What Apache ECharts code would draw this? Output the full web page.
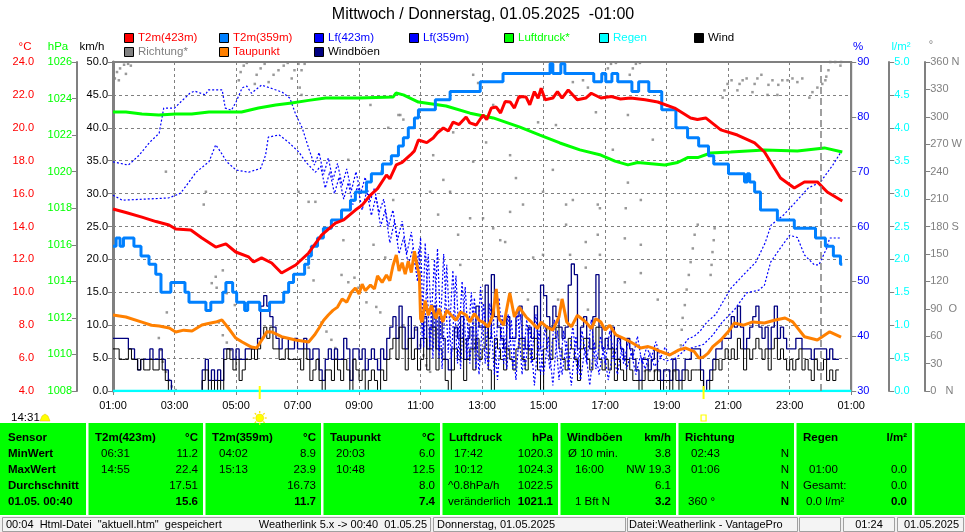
<!DOCTYPE html>
<html><head><meta charset="utf-8">
<script src="https://cdn.jsdelivr.net/npm/echarts@6/dist/echarts.min.js"></script>
<style>html,body{margin:0;padding:0;background:#fff}#c{width:965px;height:532px}</style>
</head><body><div id="c"></div>
<script>
// ---------- DATA ----------
const xTickLabels = ['01:00','03:00','05:00','07:00','09:00','11:00','13:00','15:00','17:00','19:00','21:00','23:00','01:00'];
const dirLabels = {0:'0   N',90:'90  O',180:'180 S',270:'270 W',360:'360 N'};

// T2m(423m) [hours since 01:00, °C]
const t2m423 = [[0,15.06],[0.42,14.85],[0.94,14.57],[1.4,14.3],[1.82,14.09],[2.04,13.85],[2.53,13.79],[2.89,13.3],[3.34,12.75],[3.67,12.94],[3.99,12.45],[4.41,12.15],[4.57,11.84],[4.83,12.09],[5.16,11.78],[5.48,11.17],[5.94,11.66],[6.36,12.39],[6.78,13.48],[7.23,14.21],[7.5,14.4],[7.88,15.0],[8.1,15.3],[8.37,15.91],[8.6,16.3],[8.89,17.13],[9.0,16.9],[9.21,17.74],[9.4,17.9],[9.67,18.35],[9.8,18.6],[9.93,19.26],[10.2,19.1],[10.41,19.38],[10.55,19.7],[10.74,19.99],[10.9,19.8],[11.06,20.35],[11.25,20.2],[11.48,20.66],[11.6,20.3],[11.81,20.17],[12.03,20.78],[12.15,20.5],[12.3,21.2],[12.46,21.26],[12.6,20.9],[12.75,21.6],[12.91,21.57],[13.05,21.2],[13.2,21.9],[13.43,21.87],[13.55,21.4],[13.7,22.2],[13.82,21.8],[13.92,22.4],[14.05,21.7],[14.3,21.81],[14.45,22.2],[14.6,21.8],[14.8,22.3],[14.95,21.99],[15.1,21.7],[15.37,21.81],[15.55,22.1],[15.86,21.81],[16.2,21.9],[16.5,21.75],[16.83,21.81],[17.3,21.7],[17.71,21.57],[18.26,21.2],[18.78,20.6],[19.0,20.5],[19.27,20.6],[19.76,19.87],[20.3,19.56],[20.86,19.08],[21.18,18.53],[21.38,17.92],[21.7,16.95],[22.15,16.34],[22.48,16.71],[22.9,16.71],[23.22,16.1],[23.71,15.55]];

// T2m(359m) stepped (°F resolution)
const t2m359 = [[0,12.8],[0.1,12.8],[0.1,13.3],[0.23,13.3],[0.23,12.8],[0.34,12.8],[0.34,13.3],[0.68,13.3],[0.68,12.8],[0.91,12.8],[0.91,12.2],[1.17,12.2],[1.17,11.7],[1.39,11.7],[1.39,11.1],[1.56,11.1],[1.56,10.0],[1.88,10.0],[1.88,10.6],[2.34,10.6],[2.34,10.0],[2.47,10.0],[2.47,9.4],[3.02,9.4],[3.02,8.9],[3.18,8.9],[3.18,9.4],[3.57,9.4],[3.57,10.0],[3.67,10.0],[3.67,10.6],[3.89,10.6],[3.89,10.0],[4.02,10.0],[4.02,9.4],[4.28,9.4],[4.28,8.9],[4.38,8.9],[4.38,9.4],[4.77,9.4],[4.77,8.9],[5.09,8.9],[5.09,9.4],[5.55,9.4],[5.55,10.0],[5.71,10.0],[5.71,10.6],[5.87,10.6],[5.87,11.1],[6.23,11.1],[6.23,11.7],[6.36,11.7],[6.36,12.2],[6.45,12.2],[6.45,12.8],[6.65,12.8],[6.65,13.3],[6.84,13.3],[6.84,13.9],[7.1,13.9],[7.1,14.4],[7.43,14.4],[7.43,15.0],[7.72,15.0],[7.72,15.6],[7.88,15.6],[7.88,16.1],[8.24,16.1],[8.24,16.7],[8.4,16.7],[8.4,17.2],[8.76,17.2],[8.76,17.8],[9.05,17.8],[9.05,18.3],[9.28,18.3],[9.28,18.9],[9.44,18.9],[9.44,19.4],[9.6,19.4],[9.6,20.0],[9.8,20.0],[9.8,20.6],[9.93,20.6],[9.93,21.1],[10.48,21.1],[10.48,21.7],[10.96,21.7],[10.96,22.2],[11.94,22.2],[11.94,22.8],[12.68,22.8],[12.68,23.3],[14.21,23.3],[14.21,23.9],[14.3,23.9],[14.3,23.3],[14.56,23.3],[14.56,23.9],[14.69,23.9],[14.69,23.3],[15.63,23.3],[15.63,22.8],[15.89,22.8],[15.89,23.3],[16.02,23.3],[16.02,22.8],[16.22,22.8],[16.22,23.3],[16.41,23.3],[16.41,22.8],[16.87,22.8],[16.87,22.2],[17.09,22.2],[17.09,22.8],[17.42,22.8],[17.42,22.2],[17.84,22.2],[17.84,21.1],[18.3,21.1],[18.3,20.0],[18.68,20.0],[18.68,19.4],[19.04,19.4],[19.04,18.9],[19.36,18.9],[19.36,18.3],[19.53,18.3],[19.53,17.8],[20.01,17.8],[20.01,17.2],[20.53,17.2],[20.53,16.7],[20.62,16.7],[20.62,17.2],[20.7,17.2],[20.7,16.7],[20.86,16.7],[20.86,16.1],[21.05,16.1],[21.05,15.0],[21.6,15.0],[21.6,14.4],[22.15,14.4],[22.15,13.9],[22.84,13.9],[22.84,13.3],[23.16,13.3],[23.16,12.8],[23.42,12.8],[23.42,12.2],[23.65,12.2],[23.65,11.7],[23.71,11.7]];

// Taupunkt °C
const dewPoint = [[0,8.62],[0.42,8.5],[0.94,8.19],[1.25,8.0],[1.5,7.95],[1.83,7.83],[2.04,7.59],[2.3,7.7],[2.57,7.65],[2.89,8.01],[3.1,8.1],[3.34,8.19],[3.54,8.32],[3.75,7.83],[3.99,7.22],[4.2,6.98],[4.5,6.67],[4.67,6.61],[4.87,7.2],[5.0,7.6],[5.16,7.59],[5.48,7.3],[5.94,7.1],[6.36,6.98],[6.55,7.4],[6.7,7.83],[6.85,8.3],[7.0,8.62],[7.15,8.9],[7.3,9.1],[7.45,9.6],[7.6,9.4],[7.75,10.0],[7.88,10.26],[8.0,9.9],[8.1,10.5],[8.2,10.1],[8.37,10.44],[8.5,10.2],[8.6,11.0],[8.75,10.6],[8.89,11.05],[9.0,10.7],[9.1,11.6],[9.21,12.27],[9.3,11.3],[9.4,11.8],[9.5,11.1],[9.6,11.9],[9.7,11.2],[9.8,12.5],[9.9,11.5],[9.96,11.0],[10.0,8.4],[10.05,8.19],[10.15,9.5],[10.25,8.6],[10.35,9.2],[10.5,8.4],[10.6,9.0],[10.72,8.2],[10.85,8.9],[11.0,8.6],[11.15,8.3],[11.3,8.8],[11.48,8.62],[11.6,8.2],[11.75,8.7],[11.9,8.3],[12.03,8.19],[12.2,7.9],[12.35,8.6],[12.46,10.2],[12.55,8.4],[12.7,8.0],[12.9,9.95],[13.05,8.5],[13.2,9.1],[13.43,8.5],[13.6,8.2],[13.8,7.8],[13.92,8.19],[14.1,7.9],[14.3,7.7],[14.5,8.5],[14.6,9.6],[14.75,8.2],[14.9,7.9],[15.1,8.6],[15.3,8.3],[15.37,8.19],[15.55,7.8],[15.7,8.4],[15.86,8.19],[16.0,7.7],[16.15,8.0],[16.35,7.41],[16.6,7.2],[16.83,6.98],[17.0,6.8],[17.15,6.61],[17.4,6.7],[17.56,6.61],[17.8,6.4],[18.1,6.19],[18.4,6.5],[18.62,6.61],[18.9,6.4],[19.05,6.0],[19.2,6.07],[19.35,6.3],[19.5,6.7],[19.76,7.1],[20.0,7.6],[20.2,8.13],[20.5,8.0],[20.8,8.2],[21.18,8.13],[21.5,8.3],[21.85,8.44],[22.1,8.2],[22.48,7.3],[22.9,7.1],[23.3,7.6],[23.67,7.28]];

// Luftdruck hPa
const pressure = [[0,1023.26],[0.42,1023.26],[0.94,1023.15],[1.49,1023.1],[2.04,1023.15],[2.56,1023.15],[3.12,1023.26],[4.18,1023.26],[4.73,1023.48],[5.29,1023.65],[5.81,1023.76],[6.36,1023.9],[6.91,1024.03],[8.0,1024.03],[9.11,1024.09],[9.2,1024.3],[9.44,1024.2],[9.93,1023.81],[10.83,1023.59],[11.61,1023.2],[12.36,1022.94],[13.23,1022.44],[13.88,1022.0],[14.53,1021.57],[15.18,1021.19],[15.86,1020.91],[16.32,1020.58],[16.74,1020.37],[17.06,1020.5],[17.94,1020.37],[18.36,1020.5],[18.68,1020.77],[19.01,1020.77],[19.43,1021.02],[20.08,1021.08],[21.18,1021.19],[22.25,1021.13],[23.13,1021.3],[23.71,1021.08]];

// Luftfeuchte %
const lf423 = [[0,71.8],[0.5,71.2],[0.85,73],[1.2,75.4],[1.5,77],[1.65,81.6],[2.0,81.6],[2.2,82.7],[2.5,84.3],[2.65,84.7],[3.0,84],[3.1,84.9],[3.55,84.9],[3.65,81.6],[3.85,81.2],[4.0,82.7],[4.2,85.3],[4.35,85.6],[4.5,84.3],[4.83,85.8],[5.3,84.9],[5.5,84.5],[5.75,83.4],[5.95,80.3],[6.15,78],[6.36,74.3],[6.55,71.2],[6.7,73.5],[6.85,69.5],[7.0,72.5],[7.15,68.5],[7.3,71.5],[7.45,67.5],[7.6,70.5],[7.75,66.5],[7.9,70],[8.05,66],[8.2,69],[8.35,64.5],[8.5,67],[8.65,62.5],[8.8,65],[8.95,60],[9.1,63],[9.25,57.5],[9.4,61],[9.55,55],[9.7,59],[9.85,52],[9.95,56],[10.05,40],[10.15,57],[10.3,38],[10.45,54],[10.6,36],[10.75,55],[10.9,37],[11.05,52],[11.2,35],[11.35,50],[11.5,36],[11.65,48],[11.8,34],[11.95,49],[12.1,35],[12.25,46],[12.4,33],[12.55,47],[12.7,35],[12.85,44],[13.0,34],[13.15,45],[13.3,33],[13.45,43],[13.6,35],[13.75,44],[13.9,33],[14.05,42],[14.2,34],[14.35,43],[14.5,32],[14.65,41],[14.8,34],[14.95,42],[15.1,33],[15.25,41],[15.4,35],[15.55,43],[15.7,34],[15.85,40],[16.0,35],[16.15,41],[16.3,36],[16.45,40],[16.6,35],[16.75,39],[16.9,36],[17.05,40],[17.2,35],[17.35,38],[17.5,36],[17.65,39],[17.8,36],[17.95,38],[18.1,36.5],[18.3,37],[18.5,38],[18.7,39.5],[18.9,40],[19.1,41],[19.3,42.5],[19.6,44],[19.8,46],[20.1,48.8],[20.5,51.2],[20.9,53.5],[21.2,57],[21.4,60.3],[21.8,62.1],[22.2,64.5],[22.6,67],[23.0,68.1],[23.4,71.2],[23.67,73.6]];
const lf359 = [[0,65.7],[0.3,64.8],[1.8,65.2],[2.04,65.7],[2.2,66.1],[2.47,68.1],[2.7,69.9],[2.9,70.8],[3.12,71.8],[3.34,74.9],[3.5,73.6],[3.7,71.8],[4.0,70.3],[4.41,69.9],[4.8,70.6],[4.96,73],[5.05,76.3],[5.4,76.7],[5.7,75.4],[6.04,73.6],[6.26,71.8],[6.58,69.9],[6.75,71],[6.9,67],[7.05,70],[7.2,66],[7.35,69],[7.5,65],[7.65,68],[7.8,64],[7.95,67.5],[8.1,63],[8.25,66.5],[8.4,62],[8.55,65.5],[8.7,60],[8.85,63],[9.0,57],[9.15,61],[9.3,55],[9.45,58],[9.6,53],[9.75,56],[9.9,50],[10.0,58],[10.1,38],[10.25,55],[10.4,36],[10.55,56],[10.7,34],[10.85,53],[11.0,36],[11.15,51],[11.3,34],[11.45,49],[11.6,35],[11.75,47],[11.9,33],[12.05,46],[12.2,34],[12.35,45],[12.5,32],[12.65,44],[12.8,34],[12.95,43],[13.1,32],[13.25,44],[13.4,34],[13.55,42],[13.7,31],[13.85,41],[14.0,33],[14.15,40],[14.3,31],[14.45,41],[14.6,33],[14.75,39],[14.9,31],[15.05,40],[15.2,32],[15.35,38],[15.5,31],[15.65,39],[15.8,33],[15.95,38],[16.1,32],[16.25,37],[16.4,33],[16.55,38],[16.7,34],[16.85,37],[17.0,33],[17.15,36.5],[17.3,34],[17.45,37],[17.6,34.5],[17.8,36],[18.0,35.5],[18.3,36],[18.6,37.5],[18.9,38],[19.2,38.5],[19.5,40.2],[19.8,42.5],[20.2,44.8],[20.6,47.9],[21.0,48.4],[21.18,49.3],[21.38,53.5],[21.7,56.1],[22.0,58.4],[22.25,58],[22.48,54.8],[22.8,53],[22.95,53],[23.2,56],[23.3,57.9],[23.67,57.9]];

// Wind / Windböen km/h, one value per 0.1 h from 01:00
const windStep = 0.1;
const windKmh = [
6.4,6.4,4.8,4.8,4.8,6.4,4.8,4.8,3.2,4.8,
3.2,3.2,4.8,3.2,3.2,4.8,3.2,1.6,0,0,
0,0,0,0,0,0,0,0,0,1.6,
3.2,0,1.6,0,1.6,0,4.8,6.4,4.8,3.2,
4.8,1.6,3.2,4.8,4.8,6.4,4.8,6.4,8.0,9.7,
8.0,9.7,6.4,6.4,4.8,4.8,6.4,4.8,4.8,4.8,
4.8,3.2,6.4,4.8,1.6,3.2,4.8,1.6,0,3.2,
3.2,1.6,4.8,3.2,1.6,4.8,3.2,0,4.8,3.2,
1.6,3.2,0,1.6,3.2,1.6,0,3.2,1.6,4.8,
6.4,8.0,4.8,9.7,6.4,3.2,8.0,4.8,6.4,3.2,
4.8,8.0,3.2,6.4,9.7,3.2,6.4,4.8,1.6,0,
3.2,6.4,4.8,8.0,1.6,4.8,6.4,3.2,8.0,4.8,
6.4,9.7,3.2,0,8.0,6.4,4.8,3.2,6.4,4.8,
3.2,6.4,8.0,4.8,3.2,6.4,4.8,8.0,3.2,0,
6.4,9.7,4.8,8.0,9.7,6.4,4.8,3.2,8.0,6.4,
4.8,1.6,6.4,8.0,4.8,3.2,6.4,9.7,4.8,3.2,
4.8,3.2,6.4,1.6,4.8,3.2,1.6,4.8,3.2,1.6,
1.6,0,1.6,3.2,1.6,1.6,3.2,1.6,0,1.6,
1.6,0,3.2,1.6,0,1.6,3.2,1.6,3.2,3.2,
3.2,1.6,0,0,1.6,3.2,4.8,3.2,4.8,6.4,
4.8,6.4,4.8,8.0,6.4,3.2,6.4,4.8,6.4,8.0,
6.4,4.8,6.4,3.2,6.4,8.0,4.8,6.4,4.8,3.2,
4.8,3.2,4.8,6.4,3.2,4.8,3.2,1.6,4.8,3.2,
3.2,4.8,1.6,3.2,1.6,3.2,3.2];
const gustKmh = [
8.0,8.0,8.0,8.0,8.0,6.4,6.4,4.8,3.2,4.8,
4.8,4.8,6.4,4.8,4.8,6.4,4.8,3.2,1.6,0,
0,0,0,0,0,0,0,0,0,3.2,
4.8,1.6,3.2,1.6,3.2,1.6,6.4,6.4,6.4,4.8,
6.4,4.8,4.8,6.4,6.4,6.4,6.4,8.0,12.9,14.5,
12.9,11.3,9.7,8.0,6.4,8.0,8.0,6.4,6.4,8.0,
6.4,6.4,8.0,6.4,4.8,6.4,6.4,3.2,1.6,4.8,
6.4,4.8,6.4,4.8,4.8,8.0,6.4,1.6,6.4,6.4,
4.8,6.4,3.2,4.8,6.4,4.8,3.2,6.4,4.8,8.0,
9.7,11.3,8.0,12.9,9.7,6.4,11.3,8.0,9.7,6.4,
8.0,11.3,6.4,9.7,12.9,6.4,11.3,8.0,4.8,3.2,
6.4,9.7,8.0,11.3,4.8,8.0,9.7,6.4,12.9,9.7,
9.7,16.1,8.0,17.7,11.3,9.7,8.0,6.4,11.3,8.0,
8.0,11.3,12.9,8.0,6.4,9.7,8.0,12.9,6.4,16.1,
14.5,11.3,9.7,12.9,11.3,9.7,8.0,9.7,16.1,19.3,
17.7,6.4,9.7,11.3,8.0,6.4,11.3,17.7,9.7,6.4,
8.0,6.4,9.7,4.8,8.0,6.4,4.8,8.0,6.4,4.8,
3.2,1.6,4.8,4.8,3.2,4.8,6.4,3.2,1.6,3.2,
3.2,1.6,4.8,3.2,1.6,3.2,4.8,4.8,6.4,6.4,
6.4,3.2,0,1.6,3.2,4.8,6.4,6.4,8.0,8.0,
8.0,11.3,9.7,12.9,9.7,6.4,8.0,9.7,11.3,12.9,
9.7,8.0,9.7,6.4,9.7,12.9,8.0,9.7,8.0,6.4,
6.4,6.4,8.0,8.0,6.4,6.4,6.4,4.8,6.4,6.4,
6.4,6.4,4.8,6.4,4.8,4.8,4.8];

// Regen l/m²
const rain = [[0,0],[24,0]];

// Richtung ° (scatter)
const direction = [[0.06,342],[0.13,349],[0.23,353],[0.36,357],[0.49,358],[0.58,356],[0.42,347],[0.19,340],
[1.49,58],[1.56,45],[1.62,32],[1.72,21],[1.82,12],[1.91,5],[2.04,1],[1.72,240],[1.75,86],
[3.02,218],[2.95,204],[3.34,125],[3.37,113],[3.21,118],[3.44,75],[3.57,61],[3.7,53],[3.83,45],[3.7,107],[3.96,94],[3.57,132],
[4.09,340],[4.15,349],[4.25,356],[4.35,359],[4.61,336],[4.67,346],[4.8,353],[4.93,358],[5.06,338],[5.22,346],[5.38,351],[5.55,356],[5.68,359],[5.81,342],[5.9,351],[6.03,358],[6.13,351],[6.23,358],[6.07,332],[6.13,324],
[6.36,135],[6.52,121],[7.43,127],[7.65,119],[7.85,124],[7.98,113],[6.78,75],[6.94,65],[7.1,56],[7.23,47],[6.58,207],[6.03,218],[6.36,207],
[9.34,302],[9.44,297],[11.71,251],[13.1,233],[12.91,196],[13.33,204],[14.73,182],[15.37,163],[14.3,242],[15.83,200],[10.31,218],[10.57,193],[10.96,218],[11.22,171],[11.61,189],[12.03,189],[12.36,178],[12.59,165],[12.75,163],[13.66,146],[13.98,149],[14.86,149],[15.37,135],[8.47,160],[8.56,92],[8.69,86],[8.85,146],[8.24,97],[9.99,50],[10.09,39],[10.18,28],[10.31,21],[9.86,67],[11.71,75],[9.44,72],[9.28,302],[11.71,346],[11.87,337],[12.36,313],[13.23,321],[13.98,218],[13.82,294],[14.4,291],[14.95,338],[15.28,340],[15.44,332],[15.7,305],[14.73,204],[12.91,258],[12.13,272],[11.06,283],[10.41,258],[8.95,288],[8.37,313],[8.73,240],[9.11,209],[10.74,231],[11.29,138],[13.49,100],[14.47,100],[15.44,89],[14.08,67],[12.46,100],[15.76,171],[14.95,209],[7.65,253],[7.49,165],
[15.99,346],[16.09,353],[16.19,358],[16.35,359],[16.8,346],[16.9,353],[17.0,358],[17.13,359],[16.74,302],[17.16,209],[16.67,200],[16.74,228],[17.16,129],[16.64,119],[15.83,149],[15.76,204],[17.16,160],[16.64,167],[16.25,264],[17.55,275],[17.71,100],
[17.29,22],[17.45,22],[17.61,22],[17.77,22],[17.93,22],[18.09,22],[18.26,22],[17.29,36],[17.39,28],
[19.01,182],[18.91,171],[18.85,156],[18.78,141],[18.72,127],[18.65,111],[18.59,94],[18.52,80],[18.49,67],[18.46,50],[19.56,178],[19.53,165],[19.49,152],[19.46,138],[19.43,127],
[19.82,321],[19.88,329],[19.98,336],[20.11,340],[20.3,329],[20.37,336],[20.47,340],[20.6,342],[20.79,327],[20.86,336],[20.95,342],[21.08,346],[21.28,324],[21.31,335],[21.44,340],[21.6,324],[21.63,335],[21.76,340],[21.93,340],[22.09,342],[22.25,338],[22.41,342],[22.64,321],[22.74,327],[22.9,332],[23.06,336],[23.16,340],[23.32,360],[23.26,351],[23.19,344],[23.48,360],[23.65,356],[23.67,360]];

const midnightT = 23;      // 00:00
const sunriseT = 4.77;     // 05:46
const sunsetT = 19.2;      // 20:12

// Table
const tableSeps = [86,203,321,440,558,676,794,912];
const tableSensor = ['Sensor','MinWert','MaxWert','Durchschnitt','01.05. 00:40'];
const tableHeaders = ['T2m(423m)','T2m(359m)','Taupunkt','Luftdruck','Windböen','Richtung','Regen'];
const tableUnits = ['°C','°C','°C','hPa','km/h','','l/m²'];
const tableLeft = [['06:31','14:55','',''],['04:02','15:13','',''],['20:03','10:48','',''],['17:42','10:12','^0.8hPa/h','veränderlich'],['Ø 10 min.','16:00','','1 Bft N'],['02:43','01:06','','360 °'],['','01:00','Gesamt:','0.0 l/m²']];
const tableLeftX = [[101,101,0,0],[219,219,0,0],[336,336,0,0],[454,454,448,448],[568,575,0,575],[691,691,0,688],[0,809,803,806]];
const tableRight = [['11.2','22.4','17.51','15.6'],['8.9','23.9','16.73','11.7'],['6.0','12.5','8.0','7.4'],['1020.3','1024.3','1022.5','1021.1'],['3.8','NW 19.3','6.1','3.2'],['N','N','N','N'],['','0.0','0.0','0.0']];

// ---------- CHART ----------
const FONT = '"Liberation Sans", Arial, sans-serif';
const GRAY = '#808080';
const FS = 11;
const chart = echarts.init(document.getElementById('c'));

function yAx(o){
  return Object.assign({
    type:'value', alignTicks:false,
    axisLine:{show:true,lineStyle:{color:GRAY,width:2}},
    axisTick:{show:true,length:5,lineStyle:{color:GRAY}},
    splitLine:{show:false}
  }, o);
}
function lab(color,margin,fmt){
  return {fontFamily:FONT,fontSize:FS,margin,color,showMinLabel:true,showMaxLabel:true,formatter:fmt};
}
const windSeries = windKmh.map((v,i)=>[+(i*windStep).toFixed(2),v]);
const gustSeries = gustKmh.map((v,i)=>[+(i*windStep).toFixed(2),v]);

function line(name,data,yi,color,width,extra){
  return Object.assign({name,type:'line',data,yAxisIndex:yi,showSymbol:false,symbol:'none',
    lineStyle:{color,width},itemStyle:{color},animation:false,silent:true}, extra||{});
}

const option = {
  animation:false,
  backgroundColor:'#ffffff',
  grid:{left:113,top:62,width:741,height:329,show:true,borderColor:GRAY,borderWidth:2,backgroundColor:'transparent'},
  xAxis:{type:'value',min:0,max:24,interval:2,
    axisLine:{show:true,lineStyle:{color:GRAY,width:1}},
    axisTick:{show:true,length:4,lineStyle:{color:GRAY}},
    axisLabel:lab('#000',9,v=>xTickLabels[Math.round(v/2)]),
    splitLine:{show:true,lineStyle:{color:GRAY,type:[3,3],width:1}}},
  yAxis:[
    yAx({position:'left',offset:73,min:4,max:24,interval:2,axisLabel:lab('#FF0000',6,v=>v.toFixed(1))}),
    yAx({position:'left',offset:36,min:1008,max:1026,interval:2,axisLabel:lab('#00FF00',5,v=>String(v))}),
    yAx({position:'left',offset:0,min:0,max:50,interval:5,axisLine:{show:true,lineStyle:{color:GRAY,width:3}},
      axisLabel:lab('#000',5,v=>v.toFixed(1)),
      splitLine:{show:true,lineStyle:{color:GRAY,type:[3,3],width:1}}}),
    yAx({position:'right',offset:0,min:30,max:90,interval:10,axisLabel:lab('#0000FF',6,v=>String(v))}),
    yAx({position:'right',offset:38,min:0,max:5,interval:0.5,axisLabel:lab('#00FFFF',5,v=>v.toFixed(1))}),
    yAx({position:'right',offset:74,min:0,max:360,interval:30,axisLabel:lab(GRAY,5,v=>dirLabels[v]!==undefined?dirLabels[v]:String(v))})
  ],
  series:[
    {name:'Richtung*',type:'scatter',data:direction,yAxisIndex:5,symbol:'rect',symbolSize:2.5,itemStyle:{color:GRAY},animation:false,silent:true},
    line('Windböen',gustSeries,2,'#000080',1.3,{step:'end'}),
    line('Wind',windSeries,2,'#000000',1,{step:'end'}),
    line('Lf(423m)',lf423,3,'#0000FF',1,{lineStyle:{color:'#0000FF',width:1.2,type:[2,2]}}),
    line('Lf(359m)',lf359,3,'#0000FF',1,{lineStyle:{color:'#0000FF',width:1.2,type:[2,2]}}),
    line('Taupunkt',dewPoint,0,'#FF8000',3),
    line('Luftdruck*',pressure,1,'#00FF00',3),
    line('T2m(359m)',t2m359,0,'#0080FF',3),
    line('T2m(423m)',t2m423,0,'#FF0000',3),
    line('Regen',rain,4,'#00FFFF',2.5,{markLine:{silent:true,symbol:['none','none'],label:{show:false},
      lineStyle:{color:GRAY,type:[7,4],width:1.5},data:[{xAxis:midnightT}]}})
  ]
};
chart.setOption(option);

// ---------- GRAPHICS (title, legend, units, table, status bar) ----------
function T(x,y,s,color,o){
  o=o||{};
  return {type:'text',x,y,silent:true,z:o.z||10,style:{text:s,fill:color,
    font:(o.bold?'bold ':'')+(o.size||FS)+'px '+FONT,
    textAlign:o.align||'left',align:o.align||'left',textVerticalAlign:'middle',verticalAlign:'middle'}};
}
function R(x,y,w,h,fill,stroke,lw){
  return {type:'rect',silent:true,z:5,shape:{x,y,width:w,height:h},style:{fill:fill||'none',stroke:stroke||null,lineWidth:lw||1}};
}
const g = [];
g.push(T(483,15,'Mittwoch / Donnerstag, 01.05.2025  -01:00','#000',{size:16,align:'center'}));
// legend
const leg = [
  [124,38,'#FF0000','T2m(423m)','#FF0000'],[219,38,'#0080FF','T2m(359m)','#FF0000'],[314,38,'#0000FF','Lf(423m)','#0000FF'],
  [409,38,'#0000FF','Lf(359m)','#0000FF'],[504,38,'#00FF00','Luftdruck*','#00FF00'],[599,38,'#00FFFF','Regen','#00FFFF'],
  [694,38,'#000000','Wind','#000000'],
  [124,52,GRAY,'Richtung*',GRAY],[219,52,'#FF8000','Taupunkt','#FF0000'],[314,52,'#000080','Windböen','#000000']];
leg.forEach(l=>{ g.push(R(l[0]+0.5,l[1]-4.5,9,9,l[2],'#000',1)); g.push(T(l[0]+14,l[1],l[3],l[4],{size:11.5})); });
// units
g.push(T(25,47,'°C','#FF0000',{align:'center',size:11.5}));
g.push(T(58,47,'hPa','#00FF00',{align:'center',size:11.5}));
g.push(T(92,47,'km/h','#000',{align:'center',size:11.5}));
g.push(T(858,47,'%','#0000FF',{align:'center',size:11.5}));
g.push(T(901,47,'l/m²','#00FFFF',{align:'center',size:11.5}));
g.push(T(931,45,'°',GRAY,{align:'center'}));
// table
g.push(R(0,423,965,92,'#00FF00',null));
tableSeps.forEach(x=>g.push(R(x,423,2.5,92,'#FFFFFF',null)));
const rowY=[438,454,470,486,502];
const TS = 11.5;
tableSensor.forEach((s,i)=>g.push(T(8,rowY[i],s,'#000',{bold:true,size:TS})));
tableHeaders.forEach((h,c)=>{
  const start=tableSeps[c]+9, end=tableSeps[c+1]-5;
  g.push(T(start,rowY[0],h,'#000',{bold:true,size:TS}));
  if(tableUnits[c]) g.push(T(end,rowY[0],tableUnits[c],'#000',{bold:true,size:TS,align:'right'}));
  for(let r=0;r<4;r++){
    if(tableLeft[c][r]) g.push(T(tableLeftX[c][r],rowY[r+1],tableLeft[c][r],'#000',{size:TS}));
    if(tableRight[c][r]) g.push(T(end,rowY[r+1],tableRight[c][r],'#000',{size:TS,align:'right',bold:r===3}));
  }
});
// status bar
g.push(R(0,516,965,16,'#F0F0F0',null));
[[2,517,428,14],[433,517,192,14],[627,517,170,14],[799,517,41,14],[843,517,51,14],[897,517,66,14]].forEach(p=>g.push(R(p[0]+0.5,p[1]+0.5,p[2],p[3],'#F4F4F4','#A0A0A0',1)));
const SS = 11;
g.push(T(6,525,'00:04  Html-Datei  "aktuell.htm"  gespeichert','#000',{size:SS}));
g.push(T(427,525,'Weatherlink 5.x -> 00:40  01.05.25','#000',{size:SS,align:'right'}));
g.push(T(437,525,'Donnerstag, 01.05.2025','#000',{size:SS}));
g.push(T(629,525,'Datei:Weatherlink - VantagePro','#000',{size:SS}));
g.push(T(869,525,'01:24','#000',{size:SS,align:'center'}));
g.push(T(904,525,'01.05.2025','#000',{size:SS}));
// moon rise text + icon
g.push(T(11,418,'14:31','#000',{size:11.5}));
g.push({type:'polygon',silent:true,z:10,shape:{points:[[40,421],[42,416],[45,414],[48,416],[50,421]]},style:{fill:'#FFFF00',stroke:'#E0C000',lineWidth:0.5}});

// sunrise / sunset markers positioned through the x axis scale
const xs = chart.convertToPixel({xAxisIndex:0}, sunriseT);
const xe = chart.convertToPixel({xAxisIndex:0}, sunsetT);
const m = [];
[xs,xe].forEach(x=>m.push({type:'line',silent:true,z:12,shape:{x1:x,y1:386,x2:x,y2:399},style:{stroke:'#FFFF00',lineWidth:2}}));
m.push({type:'circle',silent:true,z:12,shape:{cx:xs,cy:418,r:4},style:{fill:'#FFFF00',stroke:'#F0D000',lineWidth:0.5}});
for(let k=0;k<8;k++){const a=k*Math.PI/4;m.push({type:'line',silent:true,z:12,shape:{x1:xs+Math.cos(a)*5,y1:418+Math.sin(a)*5,x2:xs+Math.cos(a)*7,y2:418+Math.sin(a)*7},style:{stroke:'#FFE000',lineWidth:1.2}});}
m.push({type:'rect',silent:true,z:12,shape:{x:xe-2.5,y:415,width:5,height:6},style:{fill:'none',stroke:'#FFFF00',lineWidth:1.2}});
chart.setOption({graphic:{elements:g.concat(m)}});
</script></body></html>
